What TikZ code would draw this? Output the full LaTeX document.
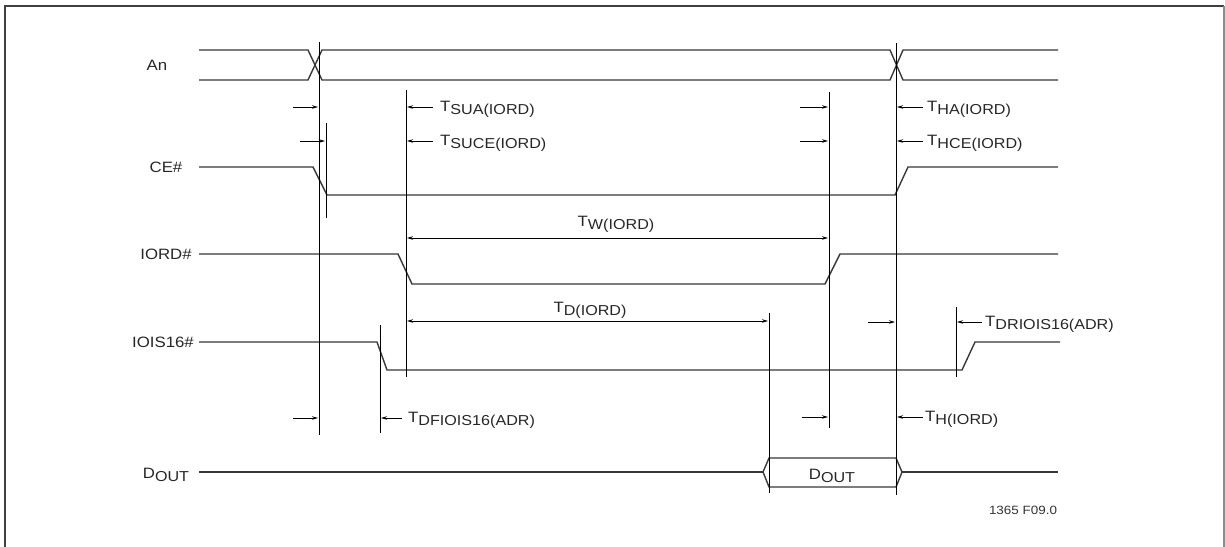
\documentclass[tikz,border=0pt]{standalone}
\usepackage{fontspec}
\setmainfont{Liberation Sans}[FakeStretch=1.12]
\usetikzlibrary{arrows.meta}
\newcommand\tsub[1]{\raisebox{-3.5pt}{\fontsize{14.4}{15}\selectfont #1}}
\tikzset{
  sig/.style={line width=1.4pt, black!78},
  vl/.style={line width=1pt, black},
  arr/.style={line width=0.9pt, black, -{Stealth[length=6pt,width=3.5pt]}},
  darr/.style={line width=0.9pt, black, {Stealth[length=6pt,width=3.5pt]}-{Stealth[length=6pt,width=3.5pt]}},
  lbl/.style={inner sep=0pt, font=\fontsize{15}{17}\selectfont, text=black!85},
  tlbl/.style={lbl, anchor=base west},
}
\begin{document}
\begin{tikzpicture}[x=1pt,y=-1pt]
\useasboundingbox (0,0) rectangle (1225,546);
% frame
\draw[line width=2pt, black!75] (5,560) -- (5,6) -- (1224,6);
\draw[line width=1.2pt, black!45] (1224,6) -- (1224,560);

% signal names
\node[lbl] (nAn) at (157,65) {An};
\node[lbl] (nCE) at (166,167) {CE\#};
\node[lbl] (nIORD) at (166,254) {IORD\#};
\node[lbl] (nIOIS) at (163,342) {IOIS16\#};
\node[lbl, anchor=base] (nDOUT) at (166,478) {D\tsub{OUT}};

% waveforms
\draw[sig] (199,50) -- (308,50) -- (322,80) -- (890,80) -- (903,50) -- (1058,50);
\draw[sig] (199,80) -- (308,80) -- (322,50) -- (890,50) -- (903,80) -- (1058,80);
\draw[sig] (199,167) -- (313,167) -- (327,195) -- (895,195) -- (908,167) -- (1058,167);
\draw[sig] (199,254) -- (398,254) -- (412,284) -- (825,284) -- (840,254) -- (1058,254);
\draw[sig] (199,342) -- (377,342) -- (387,370) -- (962,370) -- (975,342) -- (1060,342);
\draw[sig] (199,472) -- (763,472);
\draw[sig] (763,472) -- (769,458) -- (896,458) -- (902,472) -- (896,487) -- (769,487) -- cycle;
\draw[sig] (902,472) -- (1058,472);
\node[lbl, anchor=base] (bus) at (832,479) {D\tsub{OUT}};

% vertical reference lines
\coordinate (v1t) at (319,42);  \coordinate (v1b) at (319,435);
\coordinate (v2t) at (326,123); \coordinate (v2b) at (326,218);
\coordinate (v3t) at (406,90);  \coordinate (v3b) at (406,377);
\coordinate (v4t) at (829,92);  \coordinate (v4b) at (829,428);
\coordinate (v5t) at (896,43);  \coordinate (v5b) at (896,495);
\coordinate (v6t) at (769,313); \coordinate (v6b) at (769,493);
\coordinate (v7t) at (380,325); \coordinate (v7b) at (380,433);
\coordinate (v8t) at (956,307); \coordinate (v8b) at (956,377);
\foreach \v in {1,...,8} \draw[vl] (v\v t) -- (v\v b);

% timing arrows
\draw[arr] (293,107) -- (318,107);
\draw[arr] (433,107) -- (407,107);
\node[tlbl] (tsua) at (440,111) {T\tsub{SUA(IORD)}};
\draw[arr] (300,141) -- (325,141);
\draw[arr] (433,141) -- (407,141);
\node[tlbl] (tsuce) at (440,145) {T\tsub{SUCE(IORD)}};
\draw[arr] (800,107) -- (828,107);
\draw[arr] (923,107) -- (897,107);
\node[tlbl] (tha) at (927,111) {T\tsub{HA(IORD)}};
\draw[arr] (800,141) -- (828,141);
\draw[arr] (923,141) -- (897,141);
\node[tlbl] (thce) at (927,145) {T\tsub{HCE(IORD)}};
\draw[darr] (407,238) -- (828,238);
\node[lbl, anchor=base] (tw) at (616,226) {T\tsub{W(IORD)}};
\draw[darr] (407,321) -- (768,321);
\node[lbl, anchor=base] (td) at (590,312) {T\tsub{D(IORD)}};
\draw[arr] (868,322) -- (895,322);
\draw[arr] (982,322) -- (957,322);
\node[tlbl] (tdr) at (985,326) {T\tsub{DRIOIS16(ADR)}};
\draw[arr] (293,418) -- (318,418);
\draw[arr] (402,418) -- (381,418);
\node[tlbl] (tdf) at (408,422) {T\tsub{DFIOIS16(ADR)}};
\draw[arr] (802,417) -- (828,417);
\draw[arr] (923,417) -- (897,417);
\node[tlbl] (th) at (925,421) {T\tsub{H(IORD)}};

\node[inner sep=0pt, anchor=base, font=\fontsize{12}{13}\selectfont, text=black!80] (fig) at (1023,514) {1365 F09.0};
\end{tikzpicture}
\end{document}
